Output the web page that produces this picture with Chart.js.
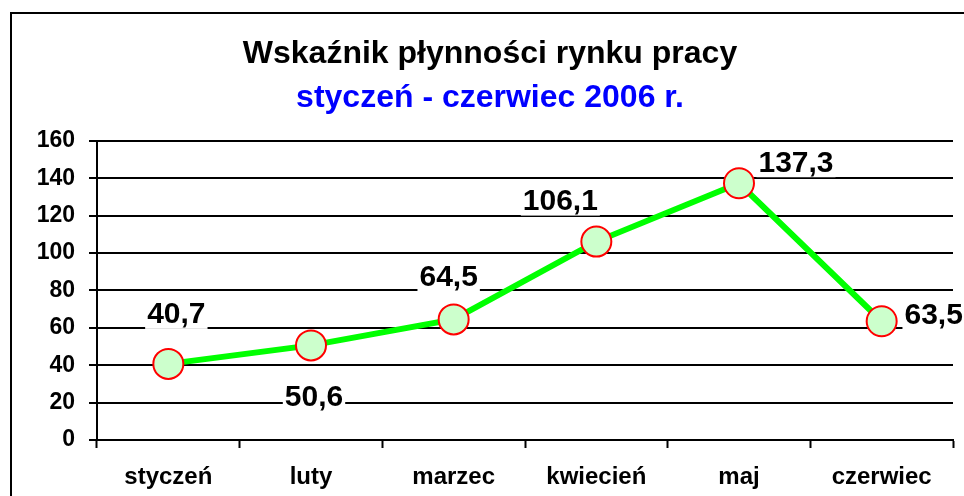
<!DOCTYPE html>
<html>
<head>
<meta charset="utf-8">
<script src="https://cdn.jsdelivr.net/npm/chart.js@4"></script>
<style>
  body { margin: 0; background: #fff; overflow: hidden; }
  #wrap { position: relative; width: 964px; height: 496px; overflow: hidden; }
  #frame { position: absolute; left: 10px; top: 12px; width: 1000px; height: 600px; border: 2px solid #000; }
  #chart { position: absolute; left: 0; top: 0; }
</style>
</head>
<body>
<div id="wrap">
  <div id="frame"></div>
  <!-- a bit wider than the window: the line controller keeps ~17px free on the right for the markers -->
  <canvas id="chart" width="970" height="496"></canvas>
</div>
<script>
// ========================
// DATA
// ========================
const months = ['styczeń', 'luty', 'marzec', 'kwiecień', 'maj', 'czerwiec'];
const values = [40.7, 50.6, 64.5, 106.1, 137.3, 63.5];
const yTicks = [0, 20, 40, 60, 80, 100, 120, 140, 160];

// label placement around each point (dx, dy in px)
const labelOffsets = [[8, -49], [3, 52], [-5, -42], [-36, -40], [57, -20], [52, -6]];

const FONT = 'Arial, "Liberation Sans", sans-serif';

// Draw value labels (polish decimal comma)
const valueLabels = {
    id: 'valueLabels',
    afterDatasetsDraw(chart) {
        const ctx = chart.ctx;
        const meta = chart.getDatasetMeta(0);
        ctx.save();
        ctx.font = 'bold 30px ' + FONT;
        ctx.textAlign = 'center';
        ctx.textBaseline = 'middle';
        meta.data.forEach((pt, i) => {
            const txt = values[i].toFixed(1).replace('.', ',');
            const x = pt.x + labelOffsets[i][0];
            const y = pt.y + labelOffsets[i][1];
            const w = ctx.measureText(txt).width;
            ctx.fillStyle = '#fff';
            ctx.fillRect(x - w / 2 - 2, y - 14, w + 4, 28);
            ctx.fillStyle = '#000';
            ctx.fillText(txt, x, y);
        });
        ctx.restore();
    }
};

new Chart(document.getElementById('chart'), {
    type: 'line',
    data: {
        labels: months,
        datasets: [{
            data: values,
            borderColor: '#00ff00',
            borderWidth: 6,
            pointRadius: 15,
            pointHoverRadius: 15,
            pointBackgroundColor: '#ccffcc',
            pointBorderColor: '#ff0000',
            pointBorderWidth: 2,
            tension: 0
        }]
    },
    options: {
        responsive: false,
        animation: false,
        layout: { padding: { left: 27, right: 17, top: 0, bottom: 0 } },
        plugins: {
            legend: { display: false },
            tooltip: { enabled: false },
            title: {
                display: true,
                text: 'Wskaźnik płynności rynku pracy',
                color: '#000',
                font: { family: FONT, size: 32, weight: 'bold' },
                padding: { top: 35, bottom: 6 }
            },
            subtitle: {
                display: true,
                text: 'styczeń - czerwiec 2006 r.',
                color: '#0000ff',
                font: { family: FONT, size: 32, weight: 'bold' },
                padding: { top: 0, bottom: 23 }
            }
        },
        scales: {
            x: {
                offset: true,
                afterFit(scale) {
                    scale.height = 56;
                    scale.paddingLeft = 0;
                    scale.paddingRight = 0;
                },
                grid: {
                    offset: true,
                    drawOnChartArea: false,
                    drawTicks: true,
                    tickLength: 8,
                    tickWidth: 2,
                    tickColor: '#000'
                },
                border: { color: '#000', width: 2 },
                ticks: {
                    color: '#000',
                    padding: 15,
                    font: { family: FONT, size: 24, weight: 'bold' }
                }
            },
            y: {
                min: 0,
                max: 160,
                afterFit(scale) { scale.width = 70; },
                afterBuildTicks(scale) { scale.ticks = yTicks.map(v => ({ value: v })); },
                grid: {
                    color: '#000',
                    lineWidth: 2,
                    tickLength: 8,
                    tickColor: '#000'
                },
                border: { color: '#000', width: 2 },
                ticks: {
                    color: '#000',
                    padding: 14,
                    font: { family: FONT, size: 23, weight: 'bold' }
                }
            }
        }
    },
    plugins: [valueLabels]
});
</script>
</body>
</html>
